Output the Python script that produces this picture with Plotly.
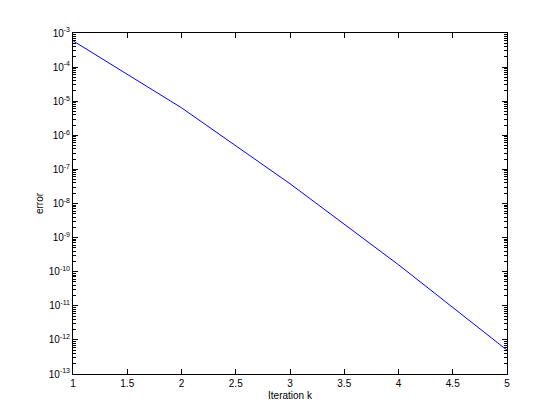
import plotly.graph_objects as go

iterations = [1, 2, 3, 4, 5]
errors = [5.9e-4, 6.4e-6, 3.8e-8, 1.6e-10, 5.0e-13]
x_ticks = [1, 1.5, 2, 2.5, 3, 3.5, 4, 4.5, 5]
y_exponents = [-13, -12, -11, -10, -9, -8, -7, -6, -5, -4, -3]
y_ticks = [10.0 ** e for e in y_exponents]
y_ticklabels = [f"10<sup>{e}</sup>" for e in y_exponents]

fig = go.Figure()
fig.add_trace(go.Scatter(
    x=iterations, y=errors, mode="lines",
    line=dict(color="#0000ff", width=1),
    showlegend=False,
))

font = dict(family="Liberation Sans, Arial, sans-serif", size=10, color="black")

# page body has an 8px default margin, so the figure is sized 552x412
fig.update_layout(
    width=552, height=412,
    margin=dict(l=65, r=53, t=25, b=46, autoexpand=False),
    paper_bgcolor="white", plot_bgcolor="white",
    font=font,
    xaxis=dict(
        range=[1, 5], tickvals=x_ticks, ticktext=[f"{v:g}" for v in x_ticks],
        ticks="inside", ticklen=5, tickwidth=1, tickcolor="black",
        showline=True, linecolor="black", linewidth=1, mirror="ticks",
        showgrid=False, zeroline=False, automargin=False,
        title=dict(text="Iteration k", font=font, standoff=3),
    ),
    yaxis=dict(
        type="log", range=[-13, -3], tickvals=y_ticks, ticktext=y_ticklabels,
        ticks="inside", ticklen=5, tickwidth=1, tickcolor="black",
        showline=True, linecolor="black", linewidth=1, mirror="ticks",
        showgrid=False, zeroline=False, automargin=False,
        minor=dict(ticks="inside", ticklen=3, tickcolor="black", dtick="D1", showgrid=False),
        title=dict(text="error", font=font, standoff=3),
    ),
)

fig.write_html("out.html")
